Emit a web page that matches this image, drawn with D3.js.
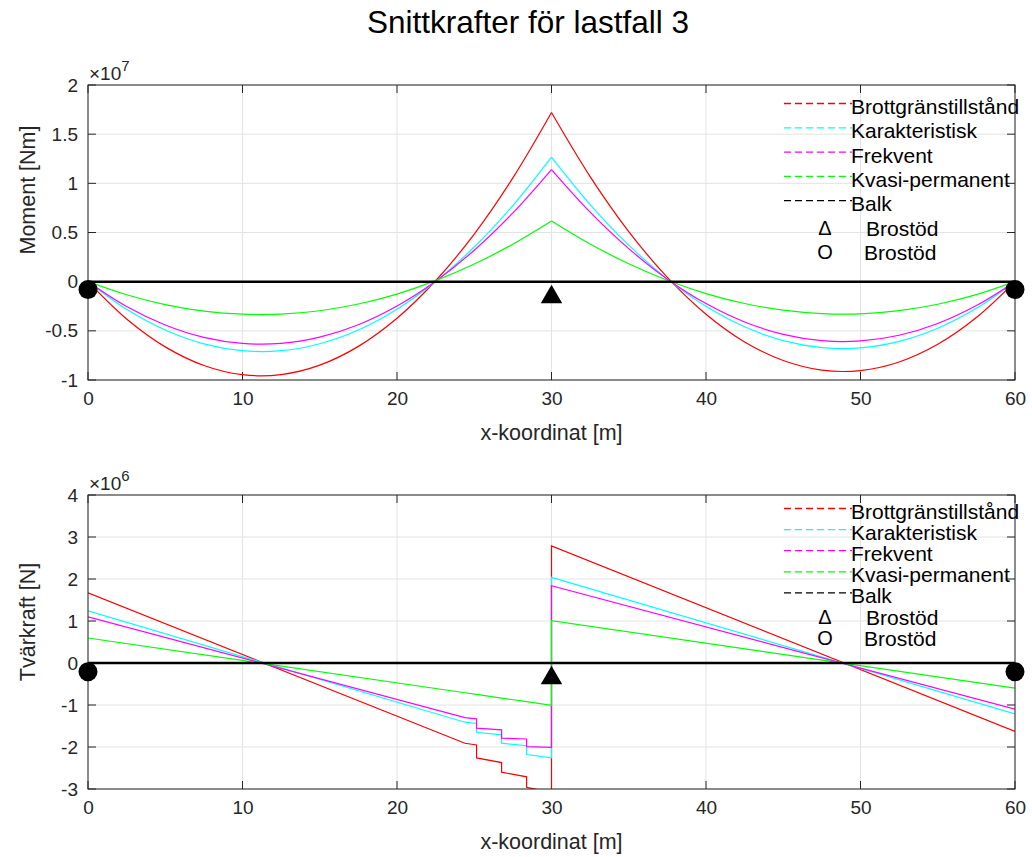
<!DOCTYPE html>
<html>
<head>
<meta charset="utf-8">
<script src="https://cdn.jsdelivr.net/npm/d3@7"></script>
<style>
  body { margin: 0; background: #fff; }
  svg { display: block; font-family: "Liberation Sans", Arial, Helvetica, sans-serif; }
  .tick-label { font-size: 19px; fill: #262626; }
  .axis-label { font-size: 21.5px; fill: #262626; }
  .legend-text { font-size: 21px; fill: #000; }
</style>
</head>
<body>
<svg id="chart" width="1032" height="857"></svg>
<script>
// series names (legend order)
const seriesNames = ["Brottgränstillstånd", "Karakteristisk", "Frekvent", "Kvasi-permanent"]
const seriesColors = ["#ff0000", "#00ffff", "#ff00ff", "#00ff00"]

const xTicks = [0, 10, 20, 30, 40, 50, 60]
const momentTicks = [-1, -0.5, 0, 0.5, 1, 1.5, 2]     // x 10^7
const shearTicks = [-3, -2, -1, 0, 1, 2, 3, 4]       // x 10^6

// moment [x 10^7 Nm], every 2.5 m
const momentX = [0, 2.5, 5, 7.5, 10, 12.5, 15, 17.5, 20, 22.5, 25, 27.5, 30,
    32.5, 35, 37.5, 40, 42.5, 45, 47.5, 50, 52.5, 55, 57.5, 60]
const momentBrott = [0, -0.379, -0.663, -0.852, -0.946, -0.945, -0.849, -0.658, -0.372, 0.009, 0.484, 1.055, 1.72,
    1.069, 0.510, 0.043, -0.331, -0.613, -0.802, -0.900, -0.904, -0.817, -0.637, -0.365, 0]
const momentKarakt = [0, -0.281, -0.491, -0.632, -0.702, -0.702, -0.631, -0.491, -0.280, 0.001, 0.353, 0.774, 1.266,
    0.784, 0.371, 0.026, -0.251, -0.459, -0.599, -0.670, -0.673, -0.607, -0.473, -0.271, 0]
const momentFrekv = [0, -0.252, -0.440, -0.566, -0.628, -0.628, -0.564, -0.438, -0.248, 0.005, 0.320, 0.699, 1.14,
    0.707, 0.336, 0.025, -0.223, -0.410, -0.536, -0.600, -0.603, -0.545, -0.425, -0.243, 0]
const momentKvasi = [0, -0.133, -0.233, -0.299, -0.331, -0.330, -0.296, -0.227, -0.126, 0.010, 0.179, 0.381, 0.617,
    0.383, 0.182, 0.014, -0.121, -0.222, -0.290, -0.325, -0.327, -0.295, -0.230, -0.132, 0]

// shear force [x 10^6 N], breakpoints
const shearX = [0, 24.4, 25.15, 25.15, 26.77, 26.77, 28.39, 28.39, 30, 30, 60]
const shearBrott = [1.67, -1.91, -1.95, -2.26, -2.37, -2.60, -2.71, -2.96, -3.08, 2.79, -1.63]
const shearKarakt = [1.24, -1.41, -1.44, -1.65, -1.71, -1.91, -1.97, -2.18, -2.26, 2.04, -1.21]
const shearFrekv = [1.10, -1.30, -1.33, -1.55, -1.59, -1.79, -1.81, -1.99, -2.01, 1.84, -1.10]
const shearKvasi = [0.595, -0.708, -0.748, -0.748, -0.835, -0.835, -0.921, -0.921, -1.007, 1.01, -0.60]

// beam line and supports
const balkX = [0, 60]
const supportTriangleX = [30]
const supportCircleX = [0, 60]
const momentSupportY = { triangle: -0.157, circle: -0.079 }
const shearSupportY = { triangle: -0.36, circle: -0.207 }

const svg = d3.select("#chart")
const left = 88, right = 1015

svg.append("text")
    .attr("x", 528)
    .attr("y", 22)
    .attr("text-anchor", "middle")
    .attr("dominant-baseline", "central")
    .style("font-size", "31.5px")
    .style("fill", "#000")
    .text("Snittkrafter för lastfall 3")

function panel(opts) {
    const x = d3.scaleLinear().domain([0, 60]).range([left, right])
    const y = d3.scaleLinear().domain(opts.yDomain).range([opts.bottom, opts.top])
    const g = svg.append("g")
    const clipId = "clip" + opts.id
    svg.append("clipPath").attr("id", clipId)
        .append("rect")
        .attr("x", left).attr("y", opts.top)
        .attr("width", right - left).attr("height", opts.bottom - opts.top)

    // grid
    g.selectAll(".vgrid").data(xTicks).enter().append("line")
        .attr("x1", d => x(d)).attr("x2", d => x(d))
        .attr("y1", opts.top).attr("y2", opts.bottom)
        .attr("stroke", "#e3e3e3").attr("stroke-width", 1)
    g.selectAll(".hgrid").data(opts.yTicks).enter().append("line")
        .attr("x1", left).attr("x2", right)
        .attr("y1", d => y(d)).attr("y2", d => y(d))
        .attr("stroke", "#e3e3e3").attr("stroke-width", 1)

    // axes (ticks inside, box on)
    const xAxis = d3.axisBottom(x).tickValues(xTicks).tickSize(0).tickPadding(9).tickFormat(d => String(d))
    const yAxis = d3.axisLeft(y).tickValues(opts.yTicks).tickSize(0).tickPadding(10).tickFormat(d => String(d))
    const gx = g.append("g").attr("transform", `translate(0, ${opts.bottom})`).call(xAxis)
    const gy = g.append("g").attr("transform", `translate(${left}, 0)`).call(yAxis)
    ;[gx, gy].forEach(a => {
        a.select(".domain").remove()
        a.selectAll("text").attr("class", "tick-label").attr("fill", null)
    })
    gx.selectAll("text").attr("dy", "0.85em")

    const tickLen = 8
    g.selectAll(".xt").data(xTicks).enter().append("path")
        .attr("d", d => `M${x(d)},${opts.bottom}v${-tickLen}M${x(d)},${opts.top}v${tickLen}`)
        .attr("stroke", "#262626")
    g.selectAll(".yt").data(opts.yTicks).enter().append("path")
        .attr("d", d => `M${left},${y(d)}h${tickLen}M${right},${y(d)}h${-tickLen}`)
        .attr("stroke", "#262626")

    // exponent label
    const ex = g.append("text")
        .attr("class", "tick-label")
        .attr("x", left + 1)
        .attr("y", opts.top - 5)
    ex.append("tspan").text("×10")
    ex.append("tspan").attr("dy", -9).style("font-size", "15px").text(opts.exponent)

    // data lines
    const lines = g.append("g").attr("clip-path", `url(#${clipId})`)
    opts.series.forEach((vals, i) => {
        const pts = opts.xs.map((xv, j) => [xv, vals[j]])
        const segments = opts.splitAt ? [pts.slice(0, opts.splitAt + 1), pts.slice(opts.splitAt)] : [pts]
        segments.forEach(seg => {
            lines.append("path")
                .datum(seg)
                .attr("fill", "none")
                .attr("stroke", seriesColors[i])
                .attr("stroke-width", 1.2)
                .attr("d", d3.line().x(d => x(d[0])).y(d => y(d[1])).curve(opts.curve))
        })
    })

    // beam
    g.append("path")
        .datum(balkX.map(v => [v, 0]))
        .attr("fill", "none")
        .attr("stroke", "#000")
        .attr("stroke-width", 2.5)
        .attr("d", d3.line().x(d => x(d[0])).y(d => y(d[1])))

    // box
    g.append("rect")
        .attr("x", left).attr("y", opts.top)
        .attr("width", right - left).attr("height", opts.bottom - opts.top)
        .attr("fill", "none").attr("stroke", "#262626").attr("stroke-width", 1)

    // supports
    g.selectAll(".tri").data(supportTriangleX).enter().append("path")
        .attr("transform", d => `translate(${x(d)}, ${y(opts.supportY.triangle)})`)
        .attr("d", d3.symbol().type(d3.symbolTriangle).size(200))
        .attr("fill", "#000")
    g.selectAll(".circ").data(supportCircleX).enter().append("circle")
        .attr("cx", d => x(d)).attr("cy", y(opts.supportY.circle))
        .attr("r", 9.5)
        .attr("fill", "#000")

    // labels
    g.append("text")
        .attr("class", "axis-label")
        .attr("x", (left + right) / 2)
        .attr("y", opts.bottom + 53)
        .attr("text-anchor", "middle")
        .attr("dominant-baseline", "central")
        .text("x-koordinat [m]")
    g.append("text")
        .attr("class", "axis-label")
        .attr("transform", `translate(28, ${opts.yLabelY}) rotate(-90)`)
        .attr("text-anchor", "middle")
        .attr("dominant-baseline", "central")
        .text(opts.yLabel)

    // legend (no box)
    const lg = g.append("g")
    const names = seriesNames.concat(["Balk"])
    const cols = seriesColors.concat(["#000"])
    names.forEach((n, i) => {
        const ty = opts.legendTop + i * opts.legendStep
        lg.append("line")
            .attr("x1", 784).attr("x2", 852)
            .attr("y1", ty - 3).attr("y2", ty - 3)
            .attr("stroke", cols[i]).attr("stroke-width", 1.3)
            .attr("stroke-dasharray", "7,4")
        lg.append("text").attr("class", "legend-text")
            .attr("x", 851).attr("y", ty)
            .attr("dominant-baseline", "central")
            .text(n)
    })
    ;["Δ", "O"].forEach((m, k) => {
        const ty = opts.legendTop + (5 + k) * opts.legendStep
        lg.append("text").attr("class", "legend-text")
            .attr("x", 825).attr("y", ty)
            .attr("text-anchor", "middle")
            .attr("dominant-baseline", "central")
            .style("font-size", "20px")
            .text(m)
        lg.append("text").attr("class", "legend-text")
            .attr("x", k === 0 ? 866 : 864).attr("y", ty)
            .attr("dominant-baseline", "central")
            .text("Brostöd")
    })
}

panel({
    id: "m", top: 85, bottom: 380, yDomain: [-1, 2], yTicks: momentTicks,
    exponent: "7", xs: momentX, splitAt: 12, curve: d3.curveCatmullRom,
    series: [momentBrott, momentKarakt, momentFrekv, momentKvasi],
    supportY: momentSupportY, yLabel: "Moment [Nm]", yLabelY: 190,
    legendTop: 106.5, legendStep: 24.3
})

panel({
    id: "v", top: 495, bottom: 789, yDomain: [-3, 4], yTicks: shearTicks,
    exponent: "6", xs: shearX, splitAt: null, curve: d3.curveLinear,
    series: [shearBrott, shearKarakt, shearFrekv, shearKvasi],
    supportY: shearSupportY, yLabel: "Tvärkraft [N]", yLabelY: 622,
    legendTop: 511.5, legendStep: 21.1
})
</script>
</body>
</html>
